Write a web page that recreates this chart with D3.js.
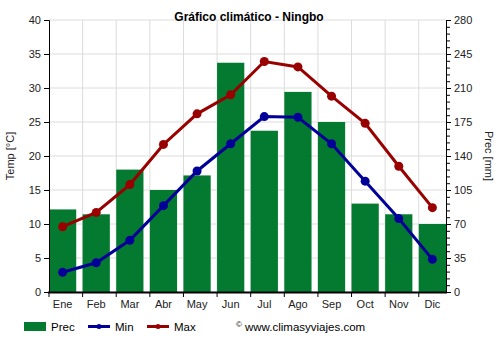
<!DOCTYPE html>
<html><head><meta charset="utf-8">
<script src="https://cdn.jsdelivr.net/npm/d3@7"></script>
<style>body{margin:0;background:#fff}svg{display:block;font-family:Arial,"Liberation Sans",sans-serif}</style>
</head><body><svg id="c" width="500" height="350"></svg>
<script>
const months = ["Ene","Feb","Mar","Abr","May","Jun","Jul","Ago","Sep","Oct","Nov","Dic"];
const prec = [85, 80, 126, 105, 120, 236, 166, 206, 175, 91, 80, 70];
const tMin = [2.9, 4.3, 7.6, 12.7, 17.8, 21.8, 25.8, 25.7, 21.8, 16.3, 10.8, 4.8];
const tMax = [9.6, 11.7, 15.8, 21.7, 26.2, 29.0, 33.9, 33.1, 28.8, 24.8, 18.5, 12.4];
const tempTicks = [0,5,10,15,20,25,30,35,40];
const precTicks = [0,35,70,105,140,175,210,245,280];

const svg = d3.select("#c");
const L = 49, R = 446, T = 20, B = 292;
const x = d3.scaleBand().domain(months).range([L, R]).paddingInner(0.19).paddingOuter(0);
const yT = d3.scaleLinear().domain([0, 40]).range([B, T]);
const yP = d3.scaleLinear().domain([0, 280]).range([B, T]);
const cx = m => x(m) + x.bandwidth() / 2;

// grid
const g = svg.append("g");
g.selectAll("line.h").data(tempTicks).join("line")
  .attr("x1", L).attr("x2", R).attr("y1", d => yT(d)).attr("y2", d => yT(d))
  .attr("stroke", "#dcdcdc").attr("stroke-width", 1);
g.selectAll("line.v").data(months.slice(1)).join("line")
  .attr("x1", d => x(d)).attr("x2", d => x(d)).attr("y1", T).attr("y2", B)
  .attr("stroke", "#dcdcdc").attr("stroke-width", 1);

// bars
svg.append("g").selectAll("rect").data(prec).join("rect")
  .attr("x", (d, i) => x(months[i])).attr("width", x.bandwidth())
  .attr("y", d => yP(d)).attr("height", d => B - yP(d))
  .attr("fill", "#037a2f");

// lines
function series(data, color) {
  const line = d3.line().x((d, i) => cx(months[i])).y(d => yT(d));
  svg.append("path").datum(data).attr("d", line).attr("fill", "none")
    .attr("stroke", color).attr("stroke-width", 3);
  svg.append("g").selectAll("circle").data(data).join("circle")
    .attr("cx", (d, i) => cx(months[i])).attr("cy", d => yT(d)).attr("r", 4.5)
    .attr("fill", color);
}
series(tMin, "#000099");
series(tMax, "#990000");

// axes
const fs = "11px";
const left = svg.append("g").attr("transform", `translate(${L},0)`)
  .call(d3.axisLeft(yT).tickValues(tempTicks).tickSize(5).tickPadding(3));
const right = svg.append("g").attr("transform", `translate(${R},0)`)
  .call(d3.axisRight(yP).tickValues(precTicks).tickSize(5).tickPadding(3));
svg.append("g").attr("transform", `translate(${R},0)`)
  .call(d3.axisRight(yP).tickValues(d3.range(0, 281, 7).filter(v => v % 35 !== 0)).tickSize(4).tickFormat(""))
  .select(".domain").remove();
const bottom = svg.append("g").attr("transform", `translate(0,${B})`)
  .call(d3.axisBottom(x).tickSize(0).tickPadding(8));
bottom.select(".domain").remove();
svg.append("g").selectAll("line").data(months).join("line")
  .attr("x1", d => x(d)).attr("x2", d => x(d)).attr("y1", B).attr("y2", B + 5)
  .attr("stroke", "#000");
svg.append("line").attr("x1", L - 1).attr("x2", R + 1).attr("y1", B + 0.5).attr("y2", B + 0.5)
  .attr("stroke", "#000").attr("stroke-width", 2);
[left, right, bottom].forEach(a => {
  a.selectAll("text").attr("font-size", fs).attr("fill", "#222").attr("font-family", "Arial, 'Liberation Sans', sans-serif");
  a.selectAll(".domain,line").attr("stroke", "#000");
});

// titles
svg.append("text").attr("x", 249).attr("y", 21).attr("text-anchor", "middle")
  .attr("font-size", "12px").attr("font-weight", "bold").text("Gráfico climático - Ningbo");
svg.append("text").attr("transform", "translate(14,156) rotate(-90)").attr("text-anchor", "middle")
  .attr("font-size", "11px").attr("fill", "#222").text("Temp [°C]");
svg.append("text").attr("transform", "translate(485,156) rotate(90)").attr("text-anchor", "middle")
  .attr("font-size", "11px").attr("fill", "#222").text("Prec [mm]");

// legend
const lg = svg.append("g").attr("font-size", "11.5px");
lg.append("rect").attr("x", 24).attr("y", 322).attr("width", 22).attr("height", 9).attr("fill", "#037a2f");
lg.append("text").attr("x", 51).attr("y", 330.5).text("Prec");
[[88, "#000099", "Min"], [147, "#990000", "Max"]].forEach(([lx, c, t]) => {
  lg.append("line").attr("x1", lx).attr("x2", lx + 22).attr("y1", 326.5).attr("y2", 326.5).attr("stroke", c).attr("stroke-width", 3);
  lg.append("circle").attr("cx", lx + 11).attr("cy", 326.5).attr("r", 2.5).attr("fill", c);
  lg.append("text").attr("x", lx + 27).attr("y", 330.5).text(t);
});
lg.append("text").attr("x", 236).attr("y", 327).attr("font-size", "8px").text("©");
lg.append("text").attr("x", 245).attr("y", 330.5).text("www.climasyviajes.com");
</script></body></html>
